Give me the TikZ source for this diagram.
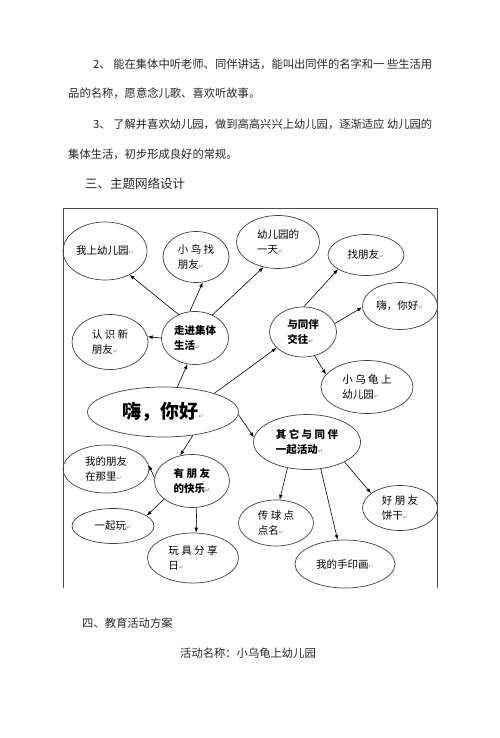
\documentclass[tikz,border=0pt]{standalone}
\usepackage{fontspec}
\setmainfont{Noto Sans CJK SC}
\newfontfamily\markfont{DejaVu Sans}
\usetikzlibrary{positioning,arrows.meta,shapes.geometric}
\newcommand{\pmk}{{\markfont\fontsize{6}{6}\selectfont\color{black!45}↵}}
\tikzset{
  line/.style={-{Latex[length=5pt,width=3.6pt]}, line width=0.6pt},
  bub/.style={draw=black!75, ellipse, line width=0.7pt, inner sep=0pt, align=left,
    font=\fontsize{10.5}{14.5}\selectfont},
  bubb/.style={bub, font=\fontsize{10.5}{14.5}\selectfont\bfseries},
  para/.style={anchor=west, inner sep=0pt, text=black!85,
    font=\fontsize{11.3}{13}\selectfont}
}

\begin{document}
\begin{tikzpicture}[x=1pt, y=-1pt]
  \useasboundingbox (0,0) rectangle (500,738);
  % text above the frame
  \node[para] (p1) at (93,64) {2、 能在集体中听老师、同伴讲话，能叫出同伴的名字和一 些生活用};
  \node[para] (p2) at (68,93) {品的名称，愿意念儿歌、喜欢听故事。};
  \node[para] (p3) at (93,124) {3、 了解并喜欢幼儿园，做到高高兴兴上幼儿园，逐渐适应 幼儿园的};
  \node[para] (p4) at (68,154) {集体生活，初步形成良好的常规。};
  \node[para, font=\fontsize{12.5}{14}\selectfont] (h3) at (85,184) {三、主题网络设计};

  % frame
  \draw[black!70, line width=0.7pt] (63,588) -- (63,208) -- (437,208) -- (437,588);

  % ellipses
  \node[bubb, minimum width=151, minimum height=50, font=\fontsize{19}{22}\selectfont\bfseries] (main) at (163,412) {嗨，你好\pmk};
  \node[bubb, minimum width=67, minimum height=53] (zj) at (195,338) {走进集体\\生活\pmk};
  \node[bub, minimum width=84, minimum height=58] (wsy) at (105,251) {我上幼儿园\pmk};
  \node[bub, minimum width=66, minimum height=51] (xnz) at (196,257) {小 鸟 找\\朋友\pmk};
  \node[bub, minimum width=83, minimum height=53] (yday) at (278,242) {幼儿园的\\一天\pmk};
  \node[bub, minimum width=76, minimum height=55] (rsx) at (110,342) {认 识 新\\朋友\pmk};
  \node[bubb, minimum width=67, minimum height=50] (yt) at (303,332) {与同伴\\交往\pmk};
  \node[bub, minimum width=76, minimum height=41] (zpy) at (366,255) {找朋友\pmk};
  \node[bub, minimum width=75, minimum height=47] (hi) at (400,306) {嗨，你好\pmk};
  \node[bub, minimum width=92, minimum height=53] (xwg) at (367,387) {小 乌 龟 上\\幼儿园\pmk};
  \node[bubb, minimum width=107, minimum height=55] (qt) at (307,442) {其 它 与 同 伴\\一起活动\pmk};
  \node[bubb, minimum width=75, minimum height=53] (ypy) at (192,481) {有 朋 友\\的快乐\pmk};
  \node[bub, minimum width=86, minimum height=48] (wdp) at (106,469) {我的朋友\\在那里\pmk};
  \node[bub, minimum width=82, minimum height=35] (yqw) at (113,526) {一起玩\pmk};
  \node[bub, minimum width=91, minimum height=50] (wjf) at (193,558) {玩 具 分 享\\日\pmk};
  \node[bub, minimum width=75, minimum height=46] (cq) at (276,523) {传 球 点\\点名\pmk};
  \node[bub, minimum width=100, minimum height=48] (sy) at (345,564) {我的手印画\pmk};
  \node[bub, minimum width=75, minimum height=45] (bg) at (400,508) {好 朋 友\\饼干\pmk};

  % arrows
  \draw[line] (main.60) -- (zj.254);
  \draw[line] (main.20) -- (yt.211);
  \draw[line] (main.-2) -- (qt.175);
  \draw[line] (main.322) -- (ypy.115);
  \draw[line] (zj.125) -- (wsy.316);
  \draw[line] (zj.101) -- (xnz.285);
  \draw[line] (zj.53) -- (yday.240);
  \draw[line] (zj.180) -- (rsx.8);
  \draw[line] (yt.88) -- (zpy.207);
  \draw[line] (yt.15) -- (hi.182);
  \draw[line] (yt.296) -- (xwg.163);
  \draw[line] (ypy.175) -- (wdp.5);
  \draw[line] (ypy.213) -- (yqw.17);
  \draw[line] (ypy.280) -- (wjf.83);
  \draw[line] (qt.233) -- (cq.81);
  \draw[line] (qt.297) -- (sy.107);
  \draw[line] (qt.332) -- (bg.153);

  % text below the frame
  \node[para] (h4) at (82,623) {四、教育活动方案};
  \node[para] (name) at (180,653) {活动名称：小乌龟上幼儿园};
\end{tikzpicture}
\end{document}
